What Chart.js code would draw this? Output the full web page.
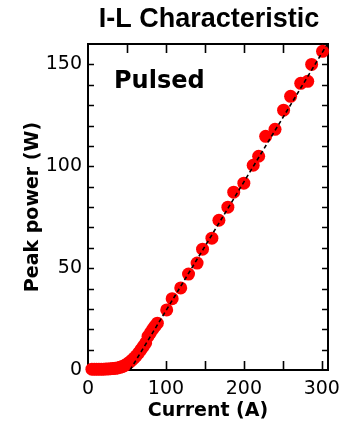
<!DOCTYPE html>
<html>
<head>
<meta charset="utf-8">
<script src="https://cdn.jsdelivr.net/npm/chart.js@4/dist/chart.umd.min.js"></script>
<style>
html,body{margin:0;padding:0;background:#fff;}
#wrap{width:342px;height:422px;position:relative;}
</style>
</head>
<body>
<div id="wrap"><canvas id="c" width="342" height="422"></canvas></div>
<script>
// Measured data: current (A) and peak power (W)
const currentA = [5, 8, 11, 14, 17, 20, 23, 26, 29, 32, 35, 38, 41, 44, 47, 50, 53, 56, 59, 62, 65, 68, 71, 74, 77, 80, 83, 86, 89,
  101, 108, 119, 129, 140, 147, 159, 168, 179.5, 187, 200, 212, 219, 228, 240, 251, 260, 273, 282, 287, 301];
const peakPowerW = [0.4, 0.4, 0.4, 0.4, 0.4, 0.4, 0.5, 0.5, 0.6, 0.7, 0.8, 1.0, 1.3, 1.7, 2.2, 2.9, 3.7, 4.7, 5.8, 7.0, 8.4, 10.0, 11.6, 13.3, 16.5, 18.2, 20.0, 21.5, 23.0,
  29.5, 35.0, 40.3, 47.1, 52.5, 59.3, 64.7, 73.5, 79.9, 87.3, 91.7, 100.5, 104.9, 114.7, 118.1, 127.5, 134.3, 140.7, 141.7, 150.0, 156.4];
// Linear fit (dashed line) endpoints
const fitCurrentA = [54, 308];
const fitPowerW = [0, 160.5];
// Axis ranges / ticks
const xRange = [0, 308];
const yRange = [0, 160];
const xMajorStep = 50, xLabelStep = 100;
const yMajorStep = 10, yLabelStep = 50;

const titleText = 'I-L Characteristic';
const noteText = 'Pulsed';

const decorPlugin = {
  id: 'decor',
  beforeDatasetsDraw(chart) {
    const {ctx, chartArea: a, scales} = chart;
    ctx.save();
    ctx.strokeStyle = '#000';
    ctx.lineWidth = 2;
    ctx.strokeRect(a.left, a.top, a.right - a.left, a.bottom - a.top);
    ctx.lineWidth = 1.6;
    ctx.beginPath();
    scales.x.ticks.forEach(t => {
      if (t.value <= xRange[0] || t.value >= xRange[1]) return;
      const px = Math.round(scales.x.getPixelForValue(t.value)) + 0.5;
      ctx.moveTo(px, a.bottom); ctx.lineTo(px, a.bottom - 9);
      ctx.moveTo(px, a.top); ctx.lineTo(px, a.top + 9);
    });
    scales.y.ticks.forEach(t => {
      if (t.value <= yRange[0] || t.value >= yRange[1]) return;
      const py = Math.round(scales.y.getPixelForValue(t.value)) + 0.5;
      ctx.moveTo(a.left, py); ctx.lineTo(a.left + 6, py);
      ctx.moveTo(a.right, py); ctx.lineTo(a.right - 6, py);
    });
    ctx.stroke();
    ctx.restore();
  },
  afterDraw(chart) {
    const {ctx, chartArea: a} = chart;
    ctx.save();
    ctx.fillStyle = '#000';
    ctx.textBaseline = 'alphabetic';
    ctx.textAlign = 'center';
    ctx.font = 'bold 27px "Liberation Sans", Arial, sans-serif';
    ctx.fillText(titleText, (a.left + a.right) / 2 + 1, 27);
    ctx.textAlign = 'left';
    ctx.font = 'bold 24px "DejaVu Sans", Verdana, sans-serif';
    ctx.fillText(noteText, 114, 88);
    ctx.restore();
  }
};

const tickFont = {family: '"DejaVu Sans", Verdana, sans-serif', size: 19};
const titleFont = {family: '"DejaVu Sans", Verdana, sans-serif', size: 19, weight: 'bold'};

new Chart(document.getElementById('c'), {
  type: 'scatter',
  data: {
    datasets: [
      {
        type: 'line',
        data: fitCurrentA.map((x, i) => ({x, y: fitPowerW[i]})),
        borderColor: '#000',
        borderWidth: 1.6,
        borderDash: [4, 3],
        pointRadius: 0,
        fill: false,
        order: 0
      },
      {
        data: currentA.map((x, i) => ({x, y: peakPowerW[i]})),
        backgroundColor: '#ff0000',
        borderWidth: 0,
        pointRadius: 6.5,
        pointHoverRadius: 6.5,
        clip: false,
        order: 1
      }
    ]
  },
  options: {
    responsive: false,
    animation: false,
    events: [],
    layout: {padding: {top: 44, right: 14, left: 0, bottom: 0}},
    plugins: {legend: {display: false}, tooltip: {enabled: false}, title: {display: false}},
    scales: {
      x: {
        type: 'linear', min: xRange[0], max: xRange[1],
        afterBuildTicks(s) { s.ticks = s.ticks.filter(t => t.value % xMajorStep === 0); },
        afterFit(s) { s.height = 52; s.paddingLeft = 0; s.paddingRight = 0; },
        ticks: {stepSize: xMajorStep, includeBounds: false, padding: 8, color: '#000', font: tickFont, maxRotation: 0, autoSkip: false,
          callback: v => (v % xLabelStep === 0 ? String(v) : '')},
        grid: {drawOnChartArea: false, drawTicks: false},
        border: {display: true, color: '#000', width: 2},
        title: {display: true, text: 'Current (A)', color: '#000', font: titleFont, padding: {top: 2, bottom: 0}}
      },
      y: {
        type: 'linear', min: yRange[0], max: yRange[1],
        afterFit(s) { s.width = 88; s.paddingTop = 0; s.paddingBottom = 0; },
        ticks: {stepSize: yMajorStep, padding: 6, color: '#000', font: tickFont, autoSkip: false,
          callback: v => (v % yLabelStep === 0 ? String(v) : '')},
        grid: {drawOnChartArea: false, drawTicks: false},
        border: {display: true, color: '#000', width: 2},
        title: {display: true, text: 'Peak power (W)', color: '#000', font: titleFont, padding: {top: 22, bottom: 0}}
      }
    }
  },
  plugins: [decorPlugin]
});
</script>
</body>
</html>
